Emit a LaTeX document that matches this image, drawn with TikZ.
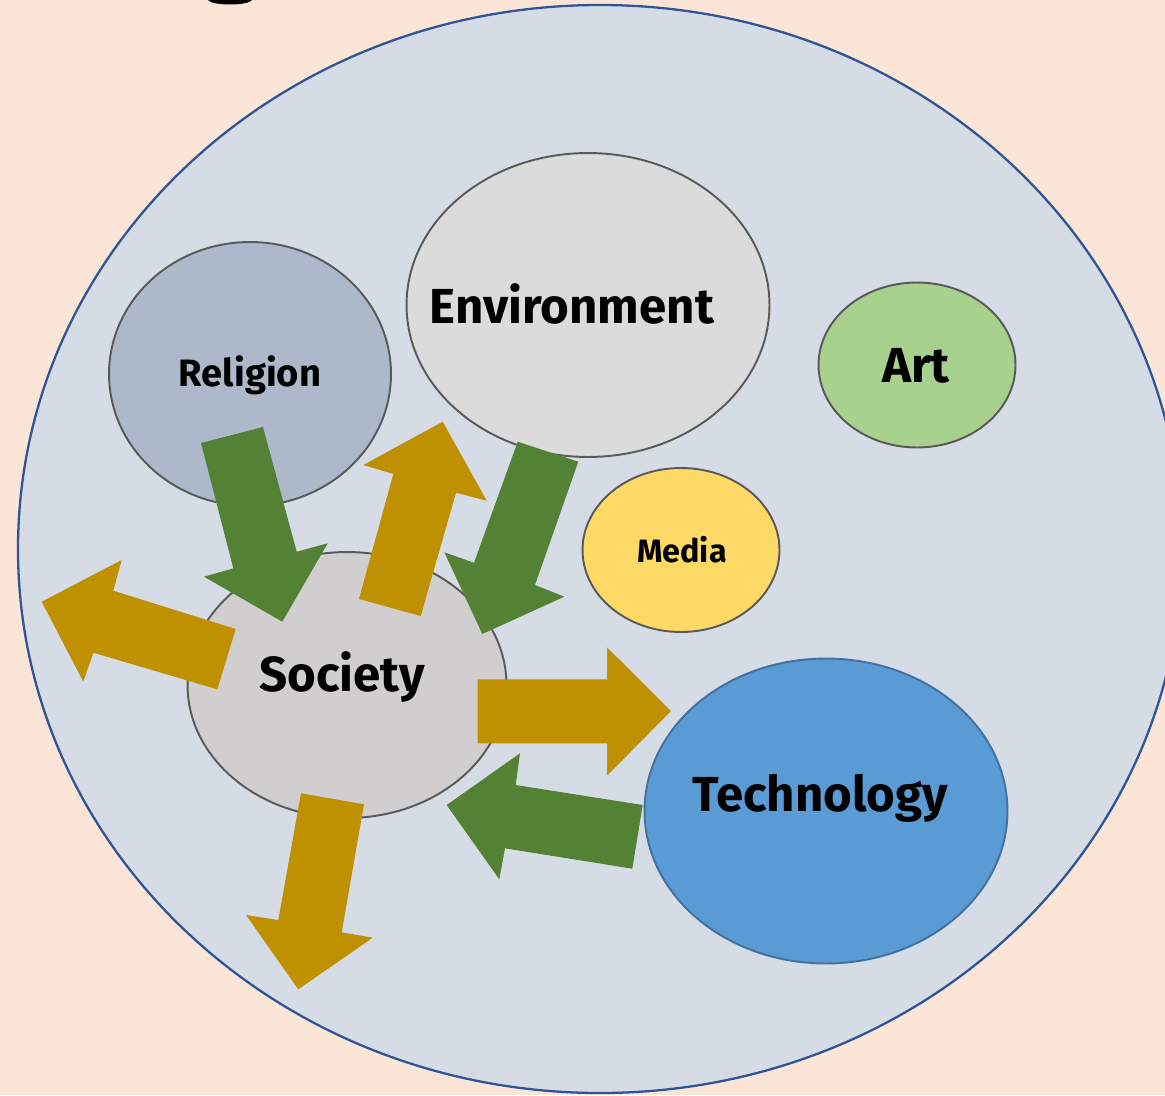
\documentclass[tikz,border=0pt]{standalone}
\usepackage{fontspec}
\setmainfont{Fira Sans}
\usetikzlibrary{shapes.geometric}
\definecolor{bgpeach}{HTML}{FBE5D6}
\definecolor{outerfill}{HTML}{D6DCE5}
\definecolor{outerline}{HTML}{2F5597}
\definecolor{relfill}{HTML}{ADB9CA}
\definecolor{envfill}{HTML}{DBDBDB}
\definecolor{artfill}{HTML}{A9D18E}
\definecolor{medfill}{HTML}{FFD966}
\definecolor{socfill}{HTML}{D0CECE}
\definecolor{techfill}{HTML}{5B9BD5}
\definecolor{techline}{HTML}{41719C}
\definecolor{ringline}{HTML}{595959}
\definecolor{greenarrow}{HTML}{548235}
\definecolor{goldarrow}{HTML}{BF9000}
\begin{document}
\begin{tikzpicture}[x=0.02cm,y=-0.02cm,
  bubble/.style={ellipse, draw=ringline, line width=1.1pt, inner sep=0pt},
  lbl/.style={font=\bfseries\fontsize{28}{33}\selectfont, text=black, inner sep=0pt},
  smalllbl/.style={font=\bfseries\fontsize{21.7}{26}\selectfont, text=black, inner sep=0pt},
  garrow/.style={fill=greenarrow, draw=none},
  oarrow/.style={fill=goldarrow, draw=none}]
\useasboundingbox (0,0) rectangle (1165,1095);
\clip (0,0) rectangle (1165,1095);
\fill[bgpeach] (0,0) rectangle (1165,1095);
% title fragment
\fill[black] (208,0) .. controls (212,6) and (248,6) .. (252,0) -- cycle;
% outer ellipse
\draw[fill=outerfill, draw=outerline, line width=1.3pt] (600,549) ellipse [x radius=582, y radius=544];
% bubbles
\node[bubble, fill=relfill, minimum width=5.64cm, minimum height=5.28cm] (rel) at (250,374) {};
\node[bubble, fill=envfill, minimum width=7.26cm, minimum height=6.08cm] (env) at (588,305) {};
\node[bubble, fill=artfill, minimum width=3.94cm, minimum height=3.30cm] (art) at (917,365) {};
\node[bubble, fill=medfill, minimum width=3.94cm, minimum height=3.28cm] (med) at (681,550) {};
\node[bubble, fill=socfill, minimum width=6.38cm, minimum height=5.32cm] (soc) at (347,685) {};
\node[bubble, fill=techfill, draw=techline, minimum width=7.26cm, minimum height=6.10cm] (tech) at (826,811) {};
% labels
\node[smalllbl] (relt) at (250,375) {Religion};
\node[lbl] (envt) at (572,304) {Environment};
\node[lbl] (artt) at (916,366) {Art};
\node[font=\bfseries\fontsize{18.4}{22}\selectfont, inner sep=0pt] (medt) at (682,550) {Media};
\node[lbl] (soct) at (342,677) {Society};
\node[lbl] (techt) at (820,798) {Technology};
% arrows: Religion -> Society
\fill[garrow] (201,443) -- (263,427) -- (296.7,551.7) -- (327.7,543.3) -- (282.3,621.7) -- (204,576.7) -- (233.3,568.3) -- cycle;
% Society -> Environment
\fill[oarrow] (359,599) -- (420.7,616) -- (456,492.7) -- (486.7,500.7) -- (442.7,421.7) -- (363.3,465) -- (393.3,474) -- cycle;
% Environment -> Society
\fill[garrow] (517.7,441.7) -- (578.3,461.7) -- (535,585) -- (564.3,596.7) -- (482.3,634) -- (444.3,552.3) -- (474,562.7) -- cycle;
% Society -> left
\fill[oarrow] (235.7,629) -- (217.3,689.3) -- (93.3,652.7) -- (83.3,681.7) -- (41.7,601.7) -- (121.7,560) -- (113.3,590.7) -- cycle;
% Society -> Technology
\fill[oarrow] (477.7,679.3) -- (607,679.3) -- (607,647.3) -- (671,711) -- (607,775.7) -- (607,743.3) -- (477.7,743.3) -- cycle;
% Technology -> Society
\fill[garrow] (642.7,805) -- (632.3,868.7) -- (505,848.3) -- (499.3,879.3) -- (446.7,805) -- (520,753.3) -- (515.7,785) -- cycle;
% Society -> down
\fill[oarrow] (301,793.3) -- (364,804.3) -- (341.7,932.3) -- (372.7,937.7) -- (298.3,989.3) -- (246,915) -- (278.3,920) -- cycle;
\end{tikzpicture}
\end{document}
